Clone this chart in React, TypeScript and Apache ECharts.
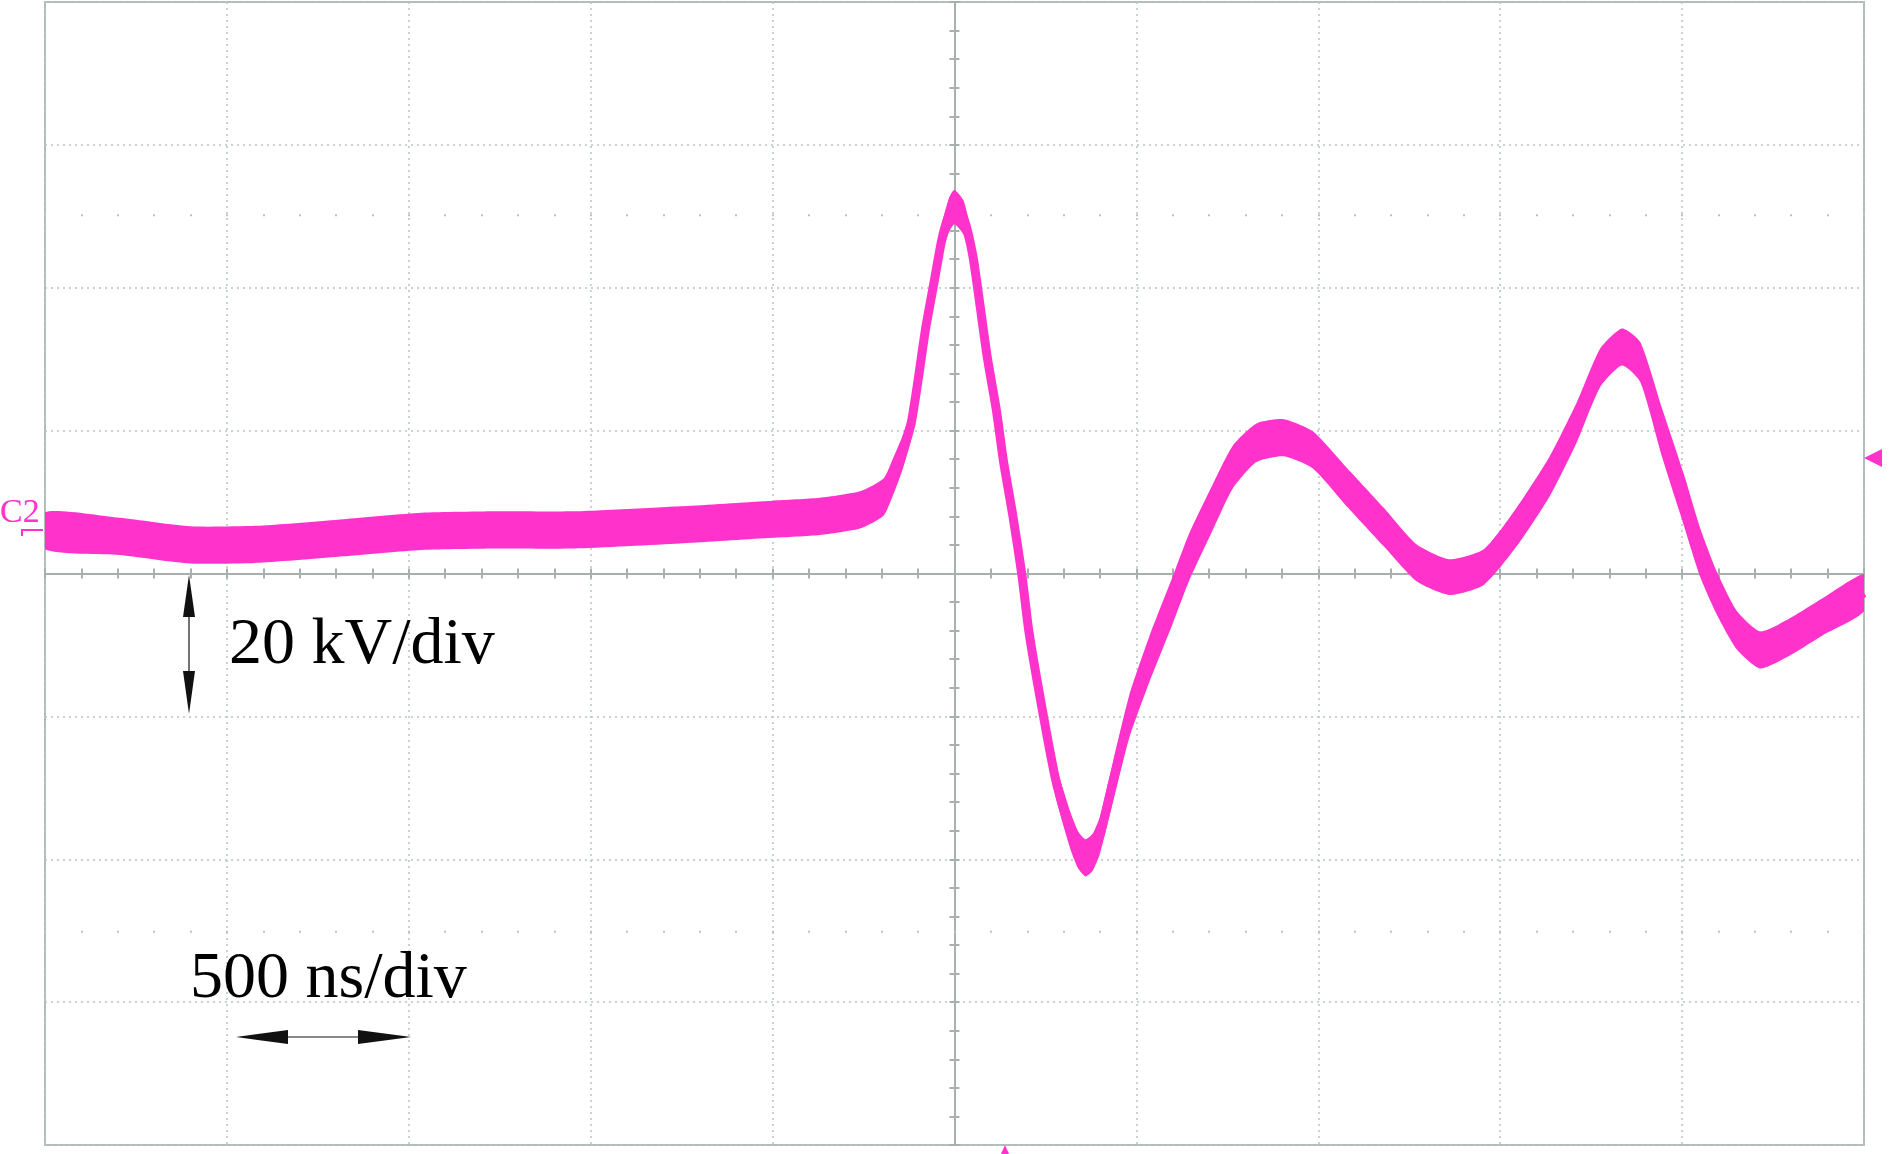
import React, { useEffect, useRef } from "react";
import * as echarts from "echarts";

// time in ns (500 ns/div), voltage in kV (20 kV/div)
const timeNs = [
  -2500, -2295, -2100, -1910, -1680, -1465, -1250, -1045, -755, -500,
  -370, -260, -195, -170, -145, -120, -100, -80, -55, -35,
  -15, 0, 25, 50, 70, 90, 115, 135, 160, 185,
  205, 245, 280, 320, 340, 360, 380, 400, 435, 480,
  535, 600, 645, 710, 765, 830, 905, 985, 1080, 1180,
  1270, 1360, 1455, 1545, 1635, 1710, 1775, 1835, 1885, 1945,
  2005, 2050, 2095, 2150, 2215, 2295, 2385, 2500,
];

const voltKV = [
  6.0, 5.2, 4.0, 4.1, 5.0, 5.9, 6.1, 6.1, 6.8, 7.6,
  8.0, 8.9, 10.7, 13.4, 16.6, 20.8, 27.1, 34.1, 41.1, 46.7,
  50.2, 51.3, 49.8, 44.6, 37.6, 30.3, 22.9, 15.6, 8.2, -0.1,
  -8.3, -20.1, -29.3, -36.2, -38.7, -39.8, -39.0, -36.6, -29.3, -20.1,
  -12.1, -3.7, 2.3, 9.3, 14.9, 18.3, 19.0, 17.3, 12.0, 6.5,
  1.5, -0.5, 0.9, 6.5, 13.5, 21.1, 28.8, 31.7, 29.6, 19.7,
  10.3, 2.9, -2.7, -7.9, -10.7, -8.9, -6.1, -2.7,
];

// half-height of the noise band around the trace (kV)
const noiseKV = [
  2.6, 2.6, 2.6, 2.6, 2.6, 2.6, 2.6, 2.6, 2.6, 2.6,
  2.6, 2.6, 2.6, 2.6, 2.4, 2.2, 2.0, 2.0, 2.0, 2.2,
  2.4, 2.4, 2.4, 2.2, 2.0, 2.0, 2.0, 2.0, 2.0, 2.0,
  2.0, 2.2, 2.4, 2.6, 2.6, 2.6, 2.6, 2.6, 2.8, 3.0,
  3.2, 3.3, 3.3, 3.2, 3.0, 2.7, 2.6, 2.6, 2.7, 2.7,
  2.6, 2.5, 2.5, 2.7, 2.8, 2.8, 2.7, 2.6, 2.8, 3.4,
  3.6, 3.4, 3.0, 2.7, 2.6, 2.6, 2.6, 2.6,
];

const channelLabel = "C2";
const voltScaleLabel = "20 kV/div";
const timeScaleLabel = "500 ns/div";

const X_MIN = -2500;
const X_MAX = 2500;
const X_DIV = 500;
const Y_MIN = -80;
const Y_MAX = 80;
const Y_DIV = 20;

const PINK = "#ff33cc";
const GRID_COLOR = "#b9c4c0";
const AXIS_COLOR = "#a6b0ac";
const SERIF = '"Liberation Serif", "Times New Roman", serif';

export default function App() {
  const ref = useRef<HTMLDivElement>(null);

  useEffect(() => {
    if (!ref.current) return;
    const chart = echarts.init(ref.current, null, { renderer: "svg" });

    const grid = { left: 45, top: 2, width: 1819, height: 1143 };
    const rowOffset = (grid.height * 1.5) / 8;
    const seriesData = timeNs.map((t, i) => [t, voltKV[i]]);

    const tickStyle = { color: AXIS_COLOR, width: 2 };
    const centerX = (position: string, split: boolean) => ({
      type: "value",
      min: X_MIN,
      max: X_MAX,
      interval: X_DIV,
      position,
      axisLine: { show: true, onZero: true, onZeroAxisIndex: 0, lineStyle: { color: AXIS_COLOR, width: 2 } },
      axisTick: { show: true, length: 5, lineStyle: tickStyle },
      minorTick: { show: true, splitNumber: 5, length: 5, lineStyle: tickStyle },
      axisLabel: { show: false },
      splitLine: { show: split, lineStyle: { color: GRID_COLOR, width: 1.5, type: [2, 4] } },
    });
    const dotRow = (position: string) => ({
      type: "value",
      min: X_MIN,
      max: X_MAX,
      interval: X_DIV,
      position,
      offset: -rowOffset,
      axisLine: { show: false, onZero: false },
      axisTick: { show: true, length: 2, lineStyle: { color: GRID_COLOR, width: 2 } },
      minorTick: { show: true, splitNumber: 5, length: 2, lineStyle: { color: GRID_COLOR, width: 2 } },
      axisLabel: { show: false },
      splitLine: { show: false },
    });
    const centerY = (position: string, split: boolean) => ({
      type: "value",
      min: Y_MIN,
      max: Y_MAX,
      interval: Y_DIV,
      position,
      axisLine: { show: true, onZero: true, onZeroAxisIndex: 0, lineStyle: { color: AXIS_COLOR, width: 2 } },
      axisTick: { show: true, length: 5, lineStyle: tickStyle },
      minorTick: { show: true, splitNumber: 5, length: 5, lineStyle: tickStyle },
      axisLabel: { show: false },
      splitLine: { show: split, lineStyle: { color: GRID_COLOR, width: 1.5, type: [2, 4] } },
    });

    const option: any = {
      animation: false,
      backgroundColor: "#ffffff",
      grid: {
        ...grid,
        show: true,
        borderColor: "#b2bcb8",
        borderWidth: 2,
        backgroundColor: "transparent",
      },
      xAxis: [centerX("bottom", true), centerX("top", false), dotRow("top"), dotRow("bottom")],
      yAxis: [centerY("left", true), centerY("right", false)],
      series: [
        {
          type: "custom",
          xAxisIndex: 0,
          yAxisIndex: 0,
          data: seriesData,
          clip: true,
          silent: true,
          z: 3,
          renderItem: (params: any, api: any) => {
            if (params.dataIndex !== 0) return null;
            const upper = timeNs.map((t, i) => api.coord([t, voltKV[i] + noiseKV[i]]));
            const lower = timeNs.map((t, i) => api.coord([t, voltKV[i] - noiseKV[i]])).reverse();
            return {
              type: "polygon",
              shape: { points: upper.concat(lower), smooth: 0.2 },
              style: { fill: PINK },
            };
          },
        },
        {
          type: "line",
          xAxisIndex: 0,
          yAxisIndex: 0,
          data: seriesData,
          showSymbol: false,
          smooth: 0.2,
          silent: true,
          clip: true,
          z: 4,
          lineStyle: { color: PINK, width: 9 },
        },
      ],
      graphic: [
        // channel marker
        {
          type: "text",
          x: 0,
          y: 510,
          z: 10,
          style: { text: channelLabel, fontSize: 34, fontFamily: SERIF, fill: PINK, align: "left", verticalAlign: "middle" },
        },
        { type: "line", z: 10, shape: { x1: 22, y1: 530, x2: 43, y2: 530 }, style: { stroke: PINK, lineWidth: 2 } },
        { type: "line", z: 10, shape: { x1: 22, y1: 529, x2: 22, y2: 536 }, style: { stroke: PINK, lineWidth: 2 } },
        // trigger level marker (right)
        { type: "polygon", z: 10, shape: { points: [[1864, 458], [1882, 449], [1882, 467]] }, style: { fill: PINK } },
        // trigger position marker (bottom)
        { type: "polygon", z: 10, shape: { points: [[1005, 1145], [1001, 1154], [1009, 1154]] }, style: { fill: PINK } },
        // vertical scale arrow
        { type: "line", z: 10, shape: { x1: 189, y1: 612, x2: 189, y2: 676 }, style: { stroke: "#444", lineWidth: 1.5 } },
        { type: "polygon", z: 10, shape: { points: [[189, 575], [183, 617], [195, 617]] }, style: { fill: "#111" } },
        { type: "polygon", z: 10, shape: { points: [[183, 671], [195, 671], [189, 714]] }, style: { fill: "#111" } },
        {
          type: "text",
          x: 229,
          y: 640,
          z: 10,
          style: { text: voltScaleLabel, fontSize: 66, fontFamily: SERIF, fill: "#000", align: "left", verticalAlign: "middle" },
        },
        // horizontal scale arrow
        { type: "line", z: 10, shape: { x1: 284, y1: 1037, x2: 362, y2: 1037 }, style: { stroke: "#888", lineWidth: 2 } },
        { type: "polygon", z: 10, shape: { points: [[236, 1037], [288, 1030], [288, 1044]] }, style: { fill: "#111" } },
        { type: "polygon", z: 10, shape: { points: [[358, 1030], [358, 1044], [411, 1037]] }, style: { fill: "#111" } },
        {
          type: "text",
          x: 190,
          y: 974,
          z: 10,
          style: { text: timeScaleLabel, fontSize: 66, fontFamily: SERIF, fill: "#000", align: "left", verticalAlign: "middle" },
        },
      ],
    };

    chart.setOption(option);
    return () => chart.dispose();
  }, []);

  return (
    <div
      ref={ref}
      style={{ position: "absolute", left: 0, top: 0, width: 1890, height: 1154, background: "#fff" }}
    />
  );
}
